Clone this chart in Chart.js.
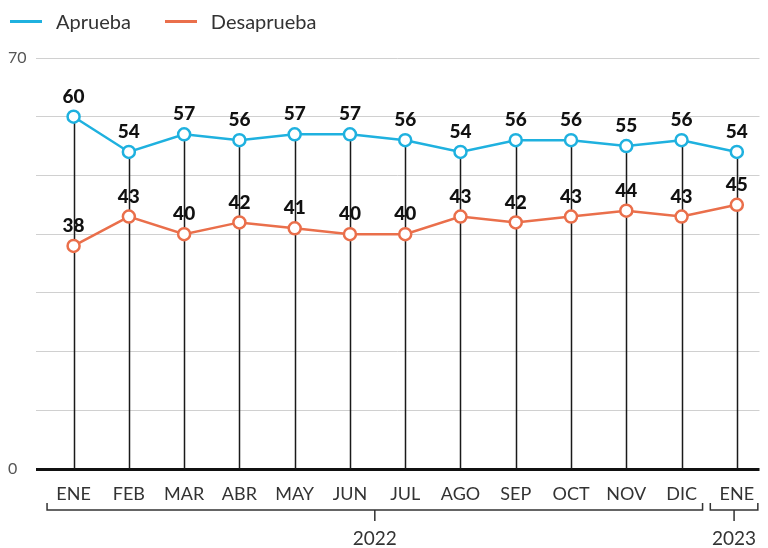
<!DOCTYPE html>
<html>
<head>
<meta charset="utf-8">
<script src="https://cdn.jsdelivr.net/npm/chart.js@4"></script>
<style>
  html, body { margin: 0; padding: 0; background: #fff; }
  #wrap { width: 768px; height: 548px; position: relative; }
  .leyenda { position: absolute; top: 9px; left: 10px; font-family: Lato, sans-serif; font-size: 20px; color: #333; display: flex; }
  .item { display: flex; align-items: center; margin-right: 34px; }
  .linea { width: 32px; height: 3px; margin-right: 14px; }
</style>
</head>
<body>
<div id="wrap">
  <canvas id="myChart"></canvas>
  <div class="leyenda" id="leyenda"></div>
</div>
<script>
// data
const meses = ['ENE', 'FEB', 'MAR', 'ABR', 'MAY', 'JUN', 'JUL', 'AGO', 'SEP', 'OCT', 'NOV', 'DIC', 'ENE'];
const aprueba = [60, 54, 57, 56, 57, 57, 56, 54, 56, 56, 55, 56, 54];
const desaprueba = [38, 43, 40, 42, 41, 40, 40, 43, 42, 43, 44, 43, 45];
const anios = ['2022', '2023'];
const anioDesde = [0, 12];
const anioHasta = [11, 12];
const yTicks = [0, 70];

const azul = '#1fb1df';
const naranja = '#ea6f4b';
const fuente = 'Lato';

// vertical black lines from the top point down to zero
const dropLines = {
  id: 'dropLines',
  beforeDatasetsDraw(chart) {
    const ctx = chart.ctx;
    const x = chart.scales.x, y = chart.scales.y;
    ctx.save();
    ctx.strokeStyle = '#1a1a1a';
    ctx.lineWidth = 1.5;
    aprueba.forEach(function(v, i) {
      const px = Math.round(x.getPixelForValue(i)) + 0.5;
      ctx.beginPath();
      ctx.moveTo(px, y.getPixelForValue(v));
      ctx.lineTo(px, y.getPixelForValue(0));
      ctx.stroke();
    });
    ctx.restore();
  }
};

// numbers above each point
const valueLabels = {
  id: 'valueLabels',
  afterDatasetsDraw(chart) {
    const ctx = chart.ctx;
    ctx.save();
    ctx.font = '900 19px ' + fuente;
    ctx.fillStyle = '#111';
    ctx.textAlign = 'center';
    ctx.textBaseline = 'middle';
    chart.data.datasets.forEach(function(ds, di) {
      chart.getDatasetMeta(di).data.forEach(function(pt, i) {
        ctx.fillText(ds.data[i].y, pt.x, pt.y - 20);
      });
    });
    ctx.restore();
  }
};

// year brackets under the month labels
const yearBrackets = {
  id: 'yearBrackets',
  afterDraw(chart) {
    const ctx = chart.ctx;
    const x = chart.scales.x;
    ctx.save();
    ctx.strokeStyle = '#333';
    ctx.lineWidth = 1.5;
    ctx.fillStyle = '#333';
    ctx.font = '19px ' + fuente;
    ctx.textAlign = 'center';
    ctx.textBaseline = 'middle';
    anios.forEach(function(a, k) {
      const x1 = x.getPixelForValue(anioDesde[k] - 0.48);
      const x2 = x.getPixelForValue(anioHasta[k] + 0.38);
      const mid = (x1 + x2) / 2;
      ctx.beginPath();
      ctx.moveTo(x1, 503);
      ctx.lineTo(x1, 510);
      ctx.lineTo(x2, 510);
      ctx.lineTo(x2, 503);
      ctx.moveTo(mid, 510);
      ctx.lineTo(mid, 521);
      ctx.stroke();
      ctx.fillText(a, mid, 539);
    });
    ctx.restore();
  }
};

function puntos(arr) {
  return arr.map(function(v, i) { return { x: i, y: v }; });
}

function serie(label, arr, color) {
  return {
    label: label,
    data: puntos(arr),
    borderColor: color,
    backgroundColor: color,
    borderWidth: 2.5,
    pointRadius: 6,
    pointBorderWidth: 2.5,
    pointBackgroundColor: '#fff',
    pointBorderColor: color,
    tension: 0
  };
}

const chart = new Chart(document.getElementById('myChart'), {
  type: 'line',
  data: {
    datasets: [
      serie('Aprueba', aprueba, azul),
      serie('Desaprueba', desaprueba, naranja)
    ]
  },
  options: {
    responsive: true,
    maintainAspectRatio: false,
    animation: false,
    layout: { padding: { left: 8, right: 0, top: 58, bottom: 0 } },
    plugins: {
      tooltip: { enabled: false },
      legend: { display: false }
    },
    scales: {
      x: {
        type: 'linear',
        min: -0.68,
        max: 12.41,
        grid: { display: false },
        border: { display: false },
        afterBuildTicks: function(axis) {
          axis.ticks = meses.map(function(m, i) { return { value: i }; });
        },
        afterFit: function(axis) { axis.height = 79; },
        ticks: {
          autoSkip: false,
          maxRotation: 0,
          padding: 6,
          color: '#333',
          font: { family: fuente, size: 18 },
          callback: function(v) { return meses[v]; }
        }
      },
      y: {
        min: 0,
        max: 70,
        afterBuildTicks: function(axis) {
          const t = [];
          for (let v = 0; v <= 70; v += 10) t.push({ value: v });
          axis.ticks = t;
        },
        afterFit: function(axis) { axis.width = 28; },
        border: { display: false },
        grid: {
          drawTicks: false,
          color: function(c) { return c.tick && c.tick.value === 0 ? '#111' : '#d0d0d0'; },
          lineWidth: function(c) { return c.tick && c.tick.value === 0 ? 3 : 1; }
        },
        ticks: {
          crossAlign: 'far',
          padding: 0,
          color: '#555',
          font: { family: fuente, size: 16 },
          callback: function(v) { return yTicks.includes(v) ? v : ''; }
        }
      }
    }
  },
  plugins: [dropLines, valueLabels, yearBrackets]
});

// legend as html, built from the datasets
const leyenda = document.getElementById('leyenda');
chart.data.datasets.forEach(function(ds) {
  const item = document.createElement('div');
  item.className = 'item';
  item.innerHTML = '<span class="linea" style="background:' + ds.borderColor + '"></span>' + ds.label;
  leyenda.appendChild(item);
});
</script>
</body>
</html>
